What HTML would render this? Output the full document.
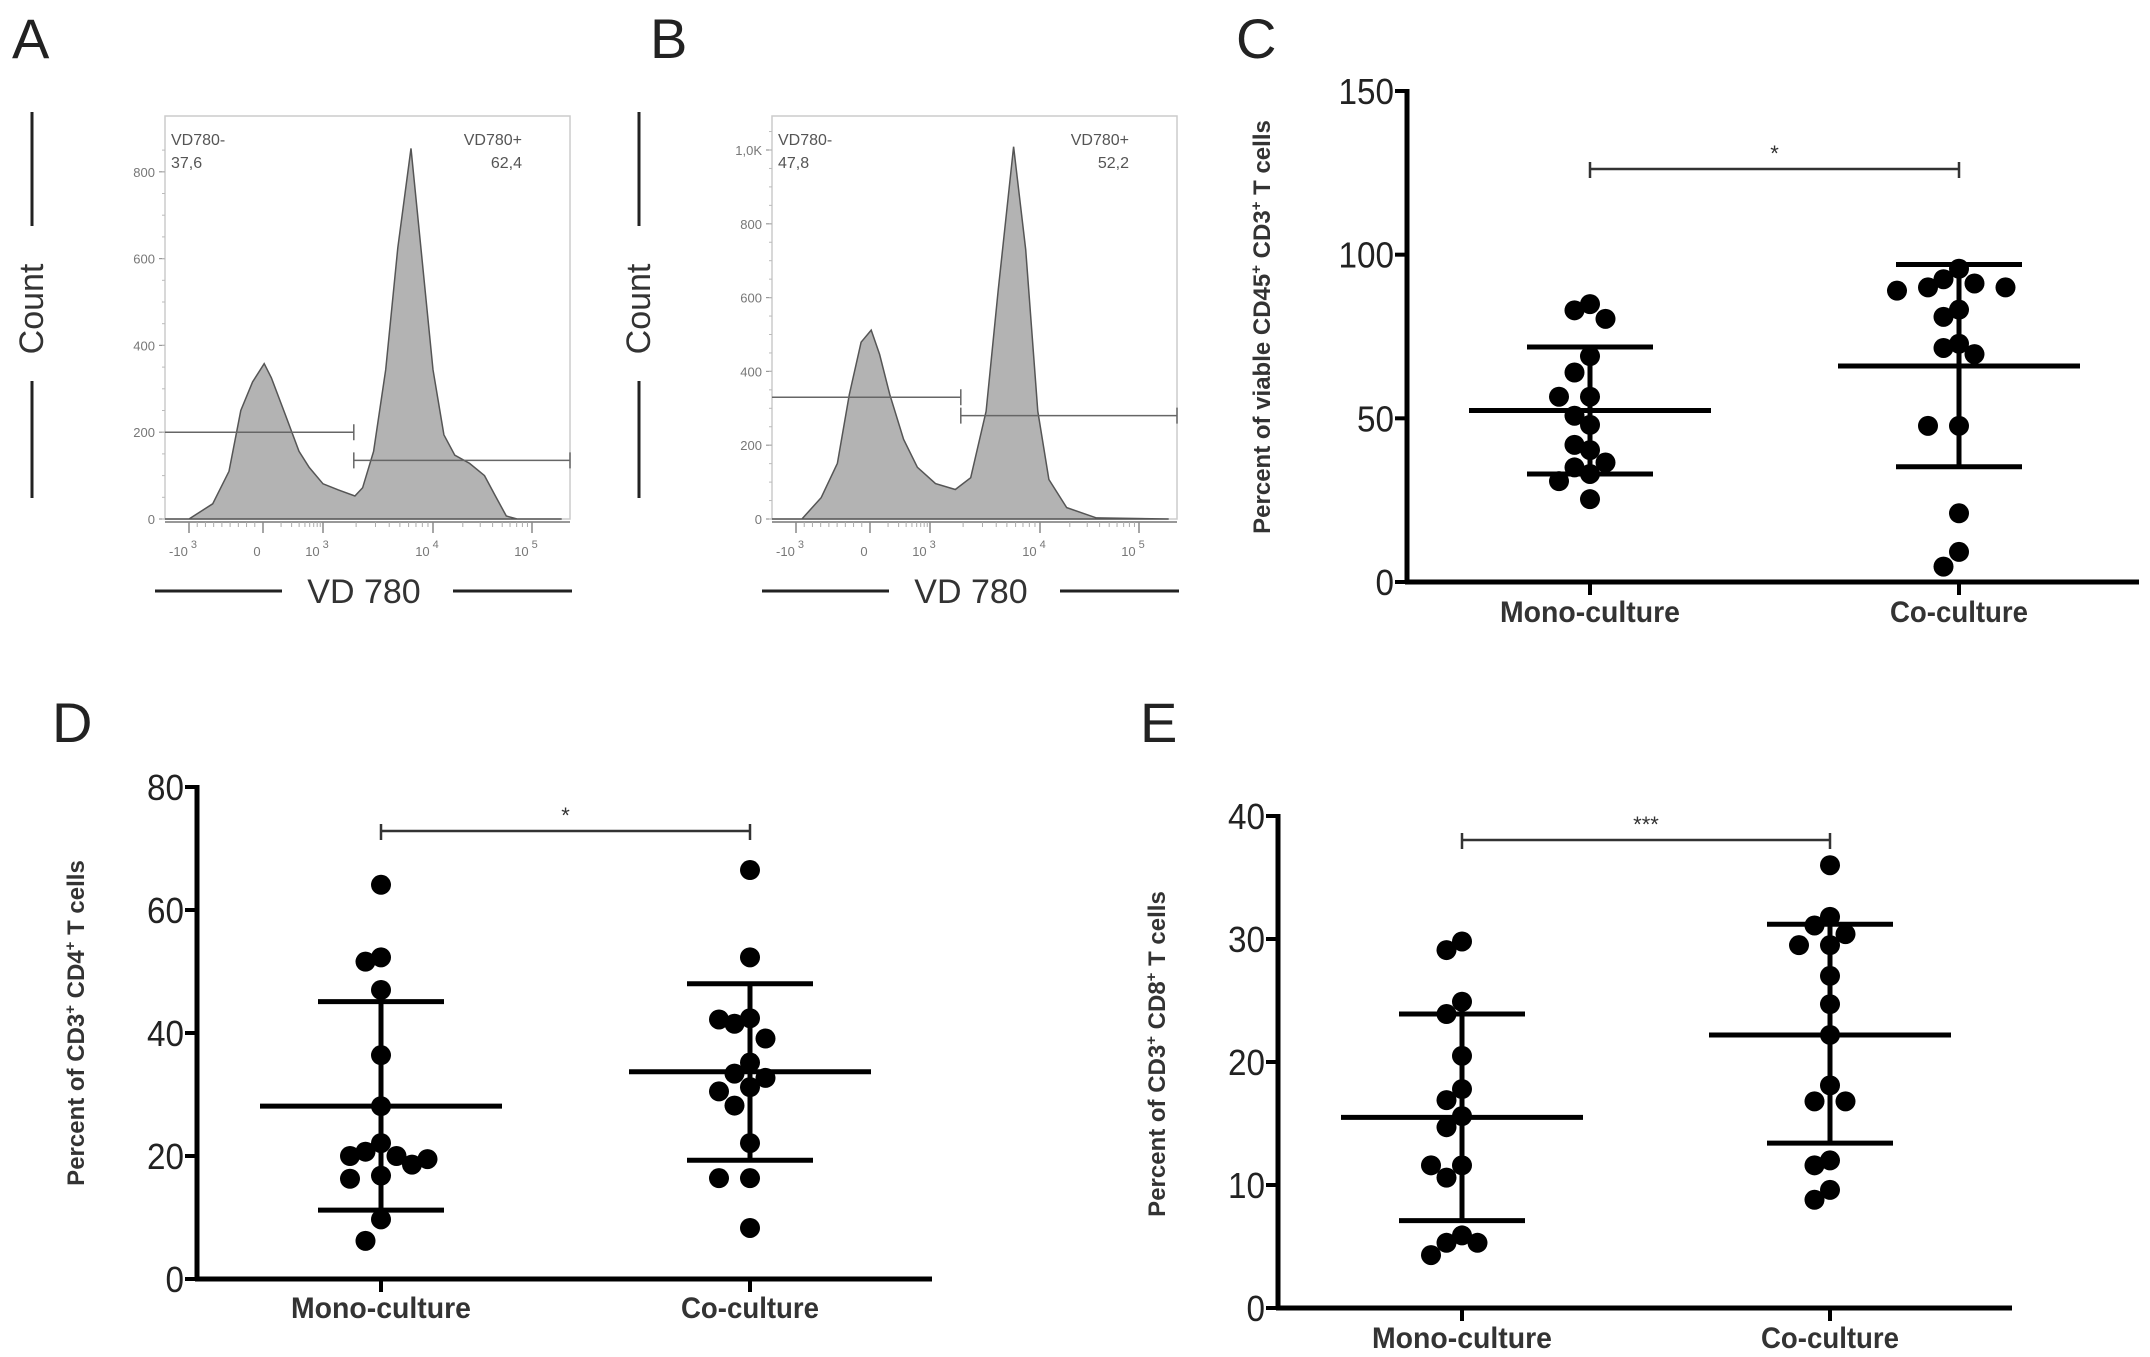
<!DOCTYPE html>
<html><head><meta charset="utf-8"><style>
html,body{margin:0;padding:0;background:#fff;}
svg{display:block;}
text{font-family:"Liberation Sans",sans-serif;}
.tick{font-family:"Liberation Sans Narrow","Liberation Sans",sans-serif;font-size:36px;fill:#222;}
.cat{font-family:"Liberation Sans Narrow","Liberation Sans",sans-serif;font-size:30px;font-weight:bold;fill:#333;}
.ytitle{font-size:24px;font-weight:bold;fill:#333;}
.letter{font-size:56px;fill:#222;}
.flow{font-size:16px;fill:#555;}
.flowtick{font-size:13px;fill:#777;}
.big{font-size:34px;fill:#333;}
</style></head><body>
<svg id="fig" xmlns="http://www.w3.org/2000/svg" width="2150" height="1357" viewBox="0 0 2150 1357">
<text class="letter" x="12" y="58">A</text>
<text class="letter" x="650" y="58">B</text>
<text class="letter" x="1236" y="58">C</text>
<text class="letter" x="52" y="742">D</text>
<text class="letter" x="1140" y="742">E</text>
</svg>
<script>
// ---------- Flow histogram data ----------
const histAU = [-1.6,-1.0,-0.68,-0.46,-0.30,-0.14,0.02,0.14,0.37,0.60,0.77,1.0,1.14,1.29,1.36,1.46,1.57,1.68,1.80,1.89,2.0,2.11,2.22,2.37,2.52,2.63,2.74,2.85,3.3];
const histACount = [0,0,35,110,250,316,358,325,241,156,119,81,67,53,72,156,344,625,854,625,344,194,147,128,100,53,7,0,0];
const histBU = [-1.6,-0.92,-0.66,-0.44,-0.28,-0.12,0.02,0.16,0.33,0.56,0.79,1.05,1.23,1.37,1.51,1.62,1.76,1.87,1.98,2.09,2.27,2.57,3.3];
const histBCount = [0,0,58,151,337,479,512,446,337,216,140,96,80,112,292,620,1009,730,292,107,31,3,0];
const flowXTickU = [-1,0,1,2,3];
const flowXTickBase = ["-10","0","10","10","10"];
const flowXTickExp = ["3","","3","4","5"];
const histATicks = [0,200,400,600,800];
const histATickLabels = ["0","200","400","600","800"];
const histBTicks = [0,200,400,600,800,1000];
const histBTickLabels = ["0","200","400","600","800","1,0K"];
const gateA = [200,135];
const gateB = [330,280];
const gateSplitU = 1.28;
const pctA = ["37,6","62,4"];
const pctB = ["47,8","52,2"];

// ---------- Dot plot data ----------
const categories = ["Mono-culture","Co-culture"];
const cMono = [84.9,80.4,83,69,64,56.6,56.6,50.8,48,40.3,41.9,36.5,33,35,30.8,25.3];
const cCo = [95.7,92.5,90,89,91.2,90,81,83.2,71.5,72.8,69.6,47.7,47.7,21,9.2,4.7];
const cMean = [52.4,66];
const cSDlow = [33,35.2];
const cSDhigh = [71.8,97];
const cTicks = [0,50,100,150];
const dMono = [64.1,51.6,52.3,47,36.4,28.1,22.1,20,19.5,16.8,16.3,18.6,20,20.7,9.7,6.2];
const dCo = [66.5,52.3,42.2,41.5,42.4,39.1,35.2,32.7,33.4,30.5,31.2,28.2,22.1,16.4,16.4,8.3];
const dMean = [28.1,33.7];
const dSDlow = [11.2,19.3];
const dSDhigh = [45.1,48];
const dTicks = [0,20,40,60,80];
const eMono = [29.1,29.8,24.9,23.9,20.5,17.8,16.9,15.6,14.7,11.6,11.6,10.6,5.9,5.3,5.3,4.3];
const eCo = [36,31.1,31.8,29.5,30.4,29.5,27,24.7,22.2,18.1,16.8,16.8,12,11.6,9.6,8.8];
const eMean = [15.5,22.2];
const eSDlow = [7.1,13.4];
const eSDhigh = [23.9,31.2];
const eTicks = [0,10,20,30,40];

const NS = "http://www.w3.org/2000/svg";
const svg = document.getElementById('fig');
function mk(tag, attrs, parent){
  const e = document.createElementNS(NS, tag);
  for (const k in attrs) e.setAttribute(k, attrs[k]);
  (parent||svg).appendChild(e);
  return e;
}

function flowPanel(id, dx, us, counts, ticks, tickLabels, pxPerCount, gate, pct){
  const g = mk('g', {transform:'translate('+dx+',0)'});
  
  
  const tU = [-1,0,1,2,3], tX = [189,263,323,433,532];
  const xOf = u => {
    let i = 0;
    if (u <= tU[0]) i = 0; else if (u >= tU[4]) i = 3; else { while (u > tU[i+1]) i++; }
    return tX[i] + (u - tU[i]) * (tX[i+1]-tX[i])/(tU[i+1]-tU[i]);
  };
  const y0 = 519;
  const yOf = c => y0 - c * pxPerCount;
  const left = 165, right = 570, top = 116;
  const box = mk('rect', {x:left, y:top, width:right-left, height:y0-top, fill:'none', stroke:'#ccc', 'stroke-width':1.5}, g);
  
  
  let d = '';
  us.forEach((u,i)=>{ const x = Math.max(left, Math.min(right, xOf(u))); d += (i?'L':'M')+x.toFixed(1)+','+yOf(counts[i]).toFixed(1); });
  const area = mk('path', {d:d+'Z', fill:'#b3b3b3', stroke:'#555', 'stroke-width':1.5}, g);
  
  
  ticks.forEach((t,i)=>{
    mk('line', {x1:left-6, x2:left, y1:yOf(t), y2:yOf(t), stroke:'#999', 'stroke-width':1.2}, g);
    const tl = mk('text', {x:left-10, y:yOf(t)+5, 'text-anchor':'end', class:'flowtick'}, g);
    tl.textContent = tickLabels[i];
    
    
  });
  for (let t = 0; t < ticks[ticks.length-1]+100; t += 50) mk('line', {x1:left-3, x2:left, y1:yOf(t), y2:yOf(t), stroke:'#bbb', 'stroke-width':1}, g);
  mk('line', {x1:left, x2:right, y1:y0+3, y2:y0+3, stroke:'#777', 'stroke-width':1.5}, g);
  flowXTickU.forEach((u,i)=>{
    const x = xOf(u);
    mk('line', {x1:x, x2:x, y1:y0+3, y2:y0+14, stroke:'#888', 'stroke-width':1.5}, g);
    const tl = mk('text', {x:x-6, y:556, 'text-anchor':'middle', class:'flowtick'}, g);
    tl.textContent = flowXTickBase[i];
    
    
    if (flowXTickExp[i]) { const s = mk('tspan', {dy:-8, dx:3, 'font-size':11}, tl); s.textContent = flowXTickExp[i]; }
    if (i < flowXTickU.length-1) {
      for (let k = 1; k < 9; k++) {
        const uu = u + (i===0 ? k/9 : Math.log10(k+1));
        const xx = xOf(uu);
        mk('line', {x1:xx, x2:xx, y1:y0+3, y2:y0+8, stroke:'#aaa', 'stroke-width':1}, g);
      }
    }
  });
  const xs = xOf(gateSplitU);
  const g1 = mk('path', {d:'M'+left+','+yOf(gate[0])+'H'+xs+'M'+xs+','+(yOf(gate[0])-8)+'V'+(yOf(gate[0])+8), stroke:'#666', 'stroke-width':1.5, fill:'none'}, g);
  
  
  const g2 = mk('path', {d:'M'+xs+','+yOf(gate[1])+'H'+right+'M'+xs+','+(yOf(gate[1])-8)+'V'+(yOf(gate[1])+8)+'M'+right+','+(yOf(gate[1])-8)+'V'+(yOf(gate[1])+8), stroke:'#666', 'stroke-width':1.5, fill:'none'}, g);
  
  
  const labs = [[left+6,145,'start','VD780-'],[left+6,168,'start',pct[0]],[right-48,145,'end','VD780+'],[right-48,168,'end',pct[1]]];
  labs.forEach(l=>{
    const t = mk('text', {x:l[0], y:l[1], 'text-anchor':l[2], class:'flow'}, g);
    t.textContent = l[3];
    
    
  });
  mk('line', {x1:32, x2:32, y1:112, y2:226, stroke:'#222', 'stroke-width':3}, g);
  mk('line', {x1:32, x2:32, y1:381, y2:498, stroke:'#222', 'stroke-width':3}, g);
  const ct = mk('text', {x:0, y:0, transform:'translate(43,309) rotate(-90)', 'text-anchor':'middle', class:'big'}, g);
  ct.textContent = 'Count';
  
  
  mk('line', {x1:155, x2:282, y1:591, y2:591, stroke:'#222', 'stroke-width':3}, g);
  mk('line', {x1:453, x2:572, y1:591, y2:591, stroke:'#222', 'stroke-width':3}, g);
  const xt = mk('text', {x:364, y:603, 'text-anchor':'middle', class:'big'}, g);
  xt.textContent = 'VD 780';
  
  
}
flowPanel('a', 0, histAU, histACount, histATicks, histATickLabels, 0.434, gateA, pctA);
flowPanel('b', 607, histBU, histBCount, histBTicks, histBTickLabels, 0.369, gateB, pctB);

function dotPanel(id, cfg, mono, co, mean, lo, hi, ticks, title, stars){
  const g = mk('g', {});
  
  
  const vmax = ticks[ticks.length-1];
  const yOf = v => cfg.y0 - v * (cfg.y0 - cfg.yTop) / vmax;
  const centers = [cfg.cx0, cfg.cx1];
  const ya = mk('line', {x1:cfg.x0, x2:cfg.x0, y1:cfg.yTop-2, y2:cfg.y0+2, stroke:'#000', 'stroke-width':5}, g);
  
  
  const xa = mk('line', {x1:cfg.x0-2, x2:cfg.xEnd, y1:cfg.y0, y2:cfg.y0, stroke:'#000', 'stroke-width':5}, g);
  
  
  ticks.forEach(t=>{
    mk('line', {x1:cfg.x0-12, x2:cfg.x0, y1:yOf(t), y2:yOf(t), stroke:'#000', 'stroke-width':4}, g);
    const s = String(t);
    const tl = mk('text', {x:cfg.x0-13, y:yOf(t)+13, 'text-anchor':'end', class:'tick', textLength:s.length*18.5, lengthAdjust:'spacingAndGlyphs'}, g);
    tl.textContent = s;
    
    
  });
  const catW = [180,138];
  categories.forEach((c,i)=>{
    mk('line', {x1:centers[i], x2:centers[i], y1:cfg.y0, y2:cfg.y0+13, stroke:'#000', 'stroke-width':4}, g);
    const tl = mk('text', {x:centers[i], y:cfg.catY, 'text-anchor':'middle', class:'cat', textLength:catW[i], lengthAdjust:'spacingAndGlyphs'}, g);
    tl.textContent = c;
    
    
  });
  const tt = mk('text', {x:0, y:0, transform:'translate('+cfg.titleX+','+cfg.titleY+') rotate(-90)', 'text-anchor':'middle', class:'ytitle'}, g);
  
  
  title.forEach(p=>{ const s = mk('tspan', p[1] ? {dy:-9, 'font-size':15} : {dy:p[2]||0}, tt); s.textContent = p[0]; });
  const sb = mk('path', {d:'M'+cfg.cx0+','+cfg.sigY+'H'+cfg.cx1+'M'+cfg.cx0+','+(cfg.sigY-7)+'V'+(cfg.sigY+9)+'M'+cfg.cx1+','+(cfg.sigY-7)+'V'+(cfg.sigY+9), stroke:'#333', 'stroke-width':2.5, fill:'none'}, g);
  
  
  const st = mk('text', {x:(cfg.cx0+cfg.cx1)/2, y:cfg.sigY-8, 'text-anchor':'middle', 'font-size':22, fill:'#333'}, g);
  st.textContent = stars;
  
  
  [mono, co].forEach((vals, gi)=>{
    const placed = [];
    const order = vals.map((v,i)=>i).sort((a,b)=>vals[b]-vals[a]);
    order.forEach(i=>{
      const y = yOf(vals[i]);
      const cands = [0,-1,1,-2,2,-3,3,-4,4,-5,5,-6,6];
      let off = 0;
      for (const c of cands) {
        if (!placed.some(p=>p.o===c && Math.abs(p.y-y)<22) && !placed.some(p=>Math.abs(p.o-c)===1 && Math.abs(p.y-y)<4)) { off = c; break; }
      }
      placed.push({o:off, y:y});
      const dot = mk('circle', {cx:centers[gi]+off*15.5, cy:y, r:10, fill:'#000'}, g);
      
      
    });
    const cx = centers[gi];
    const ml = mk('line', {x1:cx-121, x2:cx+121, y1:yOf(mean[gi]), y2:yOf(mean[gi]), stroke:'#000', 'stroke-width':5}, g);
    
    
    const eb = mk('path', {d:'M'+cx+','+yOf(lo[gi])+'V'+yOf(hi[gi])+'M'+(cx-63)+','+yOf(lo[gi])+'H'+(cx+63)+'M'+(cx-63)+','+yOf(hi[gi])+'H'+(cx+63), stroke:'#000', 'stroke-width':5, fill:'none'}, g);
    
    
  });
}
dotPanel('c', {x0:1407, y0:582, yTop:91, xEnd:2139, cx0:1590, cx1:1959, sigY:169, catY:622, titleX:1270, titleY:327},
  cMono, cCo, cMean, cSDlow, cSDhigh, cTicks,
  [['Percent of viable CD45'],['+',1],[' CD3',0,9],['+',1],[' T cells',0,9]], '*');
dotPanel('d', {x0:197, y0:1279, yTop:787, xEnd:932, cx0:381, cx1:750, sigY:831, catY:1318, titleX:84, titleY:1023},
  dMono, dCo, dMean, dSDlow, dSDhigh, dTicks,
  [['Percent of CD3'],['+',1],[' CD4',0,9],['+',1],[' T cells',0,9]], '*');
dotPanel('e', {x0:1278, y0:1308, yTop:816, xEnd:2012, cx0:1462, cx1:1830, sigY:840, catY:1348, titleX:1165, titleY:1054},
  eMono, eCo, eMean, eSDlow, eSDhigh, eTicks,
  [['Percent of CD3'],['+',1],[' CD8',0,9],['+',1],[' T cells',0,9]], '***');
</script>
</body></html>
